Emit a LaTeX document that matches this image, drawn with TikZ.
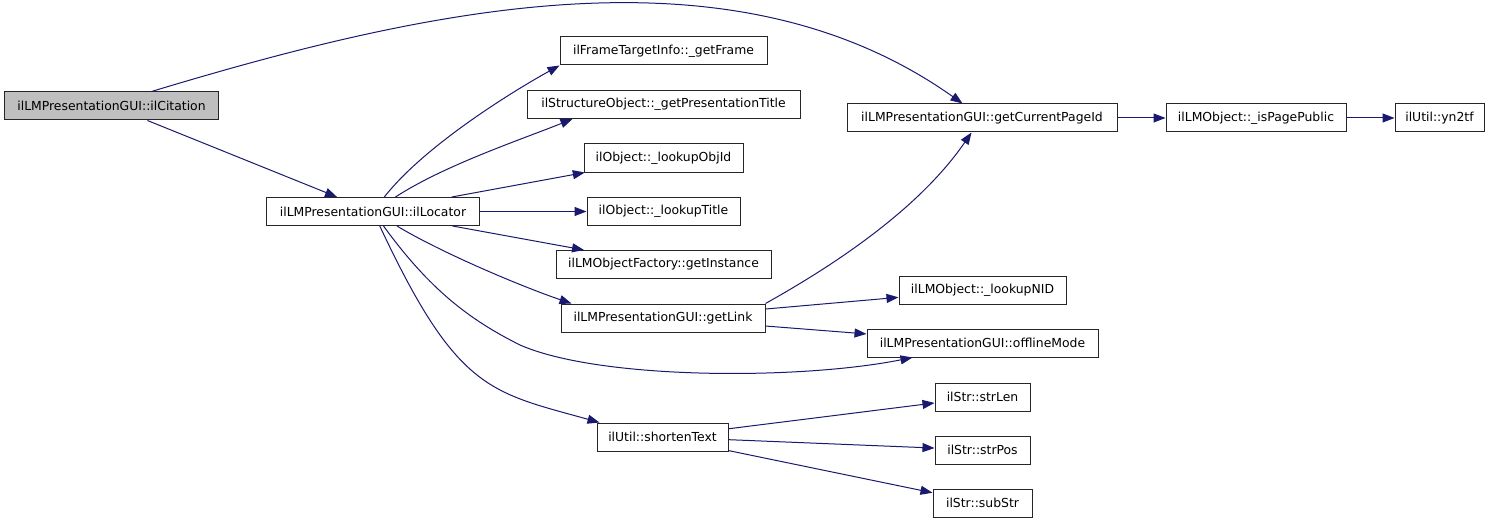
\documentclass[tikz,border=0pt]{standalone}
\usepackage{fontspec}
\setmainfont{DejaVu Sans}
\usetikzlibrary{arrows.meta,calc}
\definecolor{edgecol}{RGB}{25,25,112}
\definecolor{citfill}{RGB}{191,191,191}
\begin{document}
\begin{tikzpicture}[x=1pt,y=-1pt,
 box/.style={draw=black!85, line width=1pt, fill=white, inner sep=0pt, minimum height=28pt, font=\fontsize{12.4}{14}\selectfont},
 call/.style={draw=edgecol, line width=1pt, -{Triangle[length=12pt,width=9pt]}}]
\useasboundingbox[fill=white] (0,0) rectangle (1491,524);
\node[box, fill=citfill, minimum width=214pt] (cit) at (111.5,106) {ilLMPresentationGUI::ilCitation};
\node[box, minimum width=213pt] (loc) at (373,211.5) {ilLMPresentationGUI::ilLocator};
\node[box, minimum width=207pt] (frame) at (663.5,51) {ilFrameTargetInfo::\_getFrame};
\node[box, minimum width=273pt] (pres) at (663.5,104.5) {ilStructureObject::\_getPresentationTitle};
\node[box, minimum width=159pt] (objid) at (663.5,158) {ilObject::\_lookupObjId};
\node[box, minimum width=153pt] (title) at (663.5,211.5) {ilObject::\_lookupTitle};
\node[box, minimum width=215pt] (inst) at (663.5,264.5) {ilLMObjectFactory::getInstance};
\node[box, minimum width=204pt] (link) at (663,318) {ilLMPresentationGUI::getLink};
\node[box, minimum width=131pt] (shorten) at (662.5,437) {ilUtil::shortenText};
\node[box, minimum width=270pt] (cur) at (982,118) {ilLMPresentationGUI::getCurrentPageId};
\node[box, minimum width=180pt] (pub) at (1256,118) {ilLMObject::\_isPagePublic};
\node[box, minimum width=89pt] (yn) at (1439.5,118) {ilUtil::yn2tf};
\node[box, minimum width=167pt] (nid) at (982.5,290) {ilLMObject::\_lookupNID};
\node[box, minimum width=231pt] (off) at (982.5,343) {ilLMPresentationGUI::offlineMode};
\node[box, minimum width=95pt] (strlen) at (982.5,397) {ilStr::strLen};
\node[box, minimum width=95pt] (strpos) at (982.5,450) {ilStr::strPos};
\node[box, minimum width=99pt] (substr) at (982.5,503) {ilStr::subStr};

\draw[call] ($(cit.north)+(40,0)$) .. controls (431,7) and (733,-59) .. ($(cur.north west)+(116,0)$);
\draw[call] (cit) -- (loc);
\draw[call] (loc) .. controls (425,145) and (515,90) .. (frame.south west);
\draw[call] (loc) .. controls (445,165) and (520,140) .. ($(pres.south west)+(46,0)$);
\draw[call] (loc) -- (objid);
\draw[call] (loc) -- (title);
\draw[call] (loc) -- (inst);
\draw[call] (loc) .. controls (440,252) and (520,286) .. ($(link.north west)+(11,0)$);
\draw[call] (loc) .. controls (430,290) and (470,320) .. (520,345) .. controls (600,380) and (800,380) .. ($(off.south west)+(46,0)$);
\draw[call] (loc) .. controls (457,391) and (490,392) .. ($(shorten.north west)+(3,0)$);
\draw[call] (link.north east) .. controls (820,273) and (915,215) .. ($(cur.south west)+(125,0)$);
\draw[call] (link) -- (nid);
\draw[call] (link) -- (off);
\draw[call] (shorten) -- (strlen);
\draw[call] (shorten) -- (strpos);
\draw[call] (shorten) -- (substr);
\draw[call] (cur) -- (pub);
\draw[call] (pub) -- (yn);
\end{tikzpicture}
\end{document}
